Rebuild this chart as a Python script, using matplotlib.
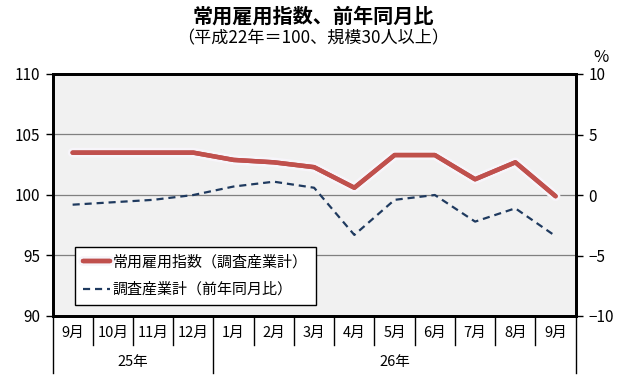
import matplotlib
matplotlib.use("Agg")
import matplotlib.pyplot as plt
import matplotlib.patheffects as pe
import matplotlib.transforms as mtransforms

plt.rcParams['font.family'] = ['Noto Sans CJK JP', 'DejaVu Sans']

# data
months = ["9月", "10月", "11月", "12月", "1月", "2月", "3月", "4月", "5月", "6月", "7月", "8月", "9月"]
years = ["25年", "26年"]
year_spans = [(0, 3), (4, 12)]
index_all = [103.5, 103.5, 103.5, 103.5, 102.9, 102.7, 102.3, 100.6, 103.3, 103.3, 101.3, 102.7, 99.9]
yoy_all = [-0.8, -0.6, -0.4, 0.0, 0.7, 1.1, 0.6, -3.3, -0.4, 0.0, -2.2, -1.1, -3.4]

fig = plt.figure(figsize=(6.3, 3.8), dpi=100)
ax = fig.add_axes([52.5 / 630, 1 - 316 / 380, (575.7 - 52.5) / 630, (316 - 74) / 380])
ax2 = ax.twinx()

x = list(range(len(months)))

ax.set_facecolor("#f1f1f1")
ax.set_xlim(-0.5, len(months) - 0.5)
ax.set_ylim(90, 110)
ax.set_yticks([90, 95, 100, 105, 110])
ax2.set_ylim(-10, 10)
ax2.set_yticks([-10, -5, 0, 5, 10])
ax2.set_yticklabels(["\u221210", "\u22125", "0", "5", "10"])

for v in [95, 100, 105]:
    ax.axhline(v, color="#808080", lw=0.9, zorder=1)

l1, = ax.plot(x, index_all, color="#c0504d", lw=3.2, zorder=3,
              solid_joinstyle="round", solid_capstyle="round",
              path_effects=[pe.withStroke(linewidth=7, foreground="#f7f5fa"), pe.Normal()],
              label="常用雇用指数（調査産業計）")
l2, = ax2.plot(x, yoy_all, color="#1f3a5f", lw=1.6, ls=(0, (3.2, 2.2)), zorder=3,
               label="調査産業計（前年同月比）")

for a in (ax, ax2):
    for s in a.spines.values():
        s.set_linewidth(2)
        s.set_color("black")
ax.tick_params(axis="y", direction="out", length=5, width=1, labelsize=11, pad=4)
ax2.tick_params(axis="y", direction="out", length=5, width=1, labelsize=11, pad=4)
ax.set_xticks([])
ax2.set_xticks([])

leg = ax2.legend(handles=[l1, l2], loc="lower left", bbox_to_anchor=(0.043, 0.045),
                 fontsize=10.8, frameon=True, fancybox=False, framealpha=1,
                 edgecolor="black", handlelength=1.8, handletextpad=0.15,
                 borderpad=0.55, labelspacing=0.85, borderaxespad=0)
leg.get_frame().set_linewidth(1.0)

# category table under the axis
trans = mtransforms.blended_transform_factory(ax.transData, ax.transAxes)
month_bottom = -29 / 242
year_bottom = -57 / 242
year_edges = [-0.5] + [e + 0.5 for _, e in year_spans]
for i in range(len(months) + 1):
    xe = i - 0.5
    yb = year_bottom if xe in year_edges else month_bottom
    ax.plot([xe, xe], [0, yb], color="black", lw=1, transform=trans, clip_on=False)
for i, m in enumerate(months):
    ax.text(i, -17 / 242, m, transform=trans, ha="center", va="center", fontsize=10.5)
for (s, e), yl in zip(year_spans, years):
    ax.text((s + e) / 2, -46 / 242, yl, transform=trans, ha="center", va="center", fontsize=10.5)

fig.text(313 / 630, 1 - 16 / 380, "常用雇用指数、前年同月比", ha="center", va="center",
         fontsize=14.5, fontweight="bold")
fig.text(313 / 630, 1 - 38 / 380, "（平成22年＝100、規模30人以上）", ha="center", va="center",
         fontsize=12.3)
fig.text(601 / 630, 1 - 58 / 380, "%", ha="center", va="center", fontsize=12)

fig.savefig("out.png", dpi=100)
